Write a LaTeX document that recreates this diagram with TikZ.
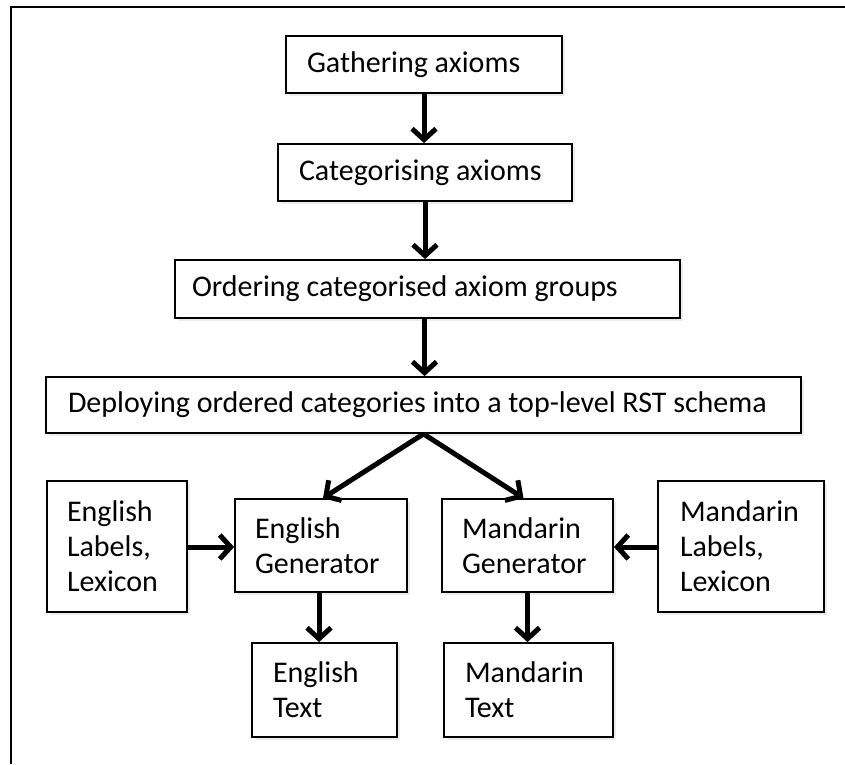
\documentclass[tikz,border=0pt]{standalone}
\usepackage{fontspec}
\setmainfont{Carlito}
\usetikzlibrary{positioning}
\usetikzlibrary{arrows.meta, shadows}

\begin{document}
\begin{tikzpicture}[x=1pt, y=-1pt]

\tikzset{stepbox/.style={
		draw,
		fill=white,
		line width=1.8pt,
		anchor=center,
		align=left,
		inner ysep=0pt,
		font=\fontsize{30}{35}\selectfont,
		execute at begin node={\spaceskip=0.226em\relax},
		drop shadow={shadow xshift=3pt, shadow yshift=-3pt, opacity=0.15}
	},
	flowarrow/.style={
		line width=5pt,
		-{Straight Barb[length=11pt, width=24pt]}
	}
}

\useasboundingbox (0,0) rectangle (845,764);
% frame
\draw[line width=2pt] (11,764) -- (11,7) -- (845,7);

% pipeline
\node[stepbox, text width=234pt, inner xsep=21pt, minimum height=57pt] (gather) at (424,64.5) {\mbox{Gathering axioms}};
\node[stepbox, text width=252pt, inner xsep=21pt, minimum height=57pt] (categ) at (425,172.5) {\mbox{Categorising axioms}};
\node[stepbox, text width=471pt, inner xsep=17pt, minimum height=58pt] (order) at (427.5,289) {\mbox{Ordering categorised axiom groups}};
\node[stepbox, text width=711pt, inner xsep=22pt, minimum height=56pt] (deploy) at (423.5,405) {\mbox{Deploying ordered categories into a top-level RST schema}};

% generators
\node[stepbox, text width=100pt, inner xsep=20pt, minimum height=131pt] (englex) at (117,546.5) {English\\Labels,\\Lexicon};
\node[stepbox, text width=132pt, inner xsep=20pt, minimum height=93pt] (enggen) at (321,545.5) {English\\Generator};
\node[stepbox, text width=131pt, inner xsep=20pt, minimum height=93pt] (mangen) at (527.5,545.5) {Mandarin\\Generator};
\node[stepbox, text width=122pt, inner xsep=22pt, minimum height=131pt] (manlex) at (741,546.5) {Mandarin\\Labels,\\Lexicon};

% output
\node[stepbox, text width=103pt, inner xsep=21pt, minimum height=94pt] (engtxt) at (324.5,690) {English\\Text};
\node[stepbox, text width=127pt, inner xsep=21pt, minimum height=94pt] (mantxt) at (528.5,690) {Mandarin\\Text};

\draw[flowarrow] (gather.south) -- (gather.south |- categ.north);
\draw[flowarrow] (categ.south) -- (categ.south |- order.north);
\draw[flowarrow] ([xshift=-3pt]order.south) -- ([xshift=-3pt]order.south |- deploy.north);
\draw[flowarrow] (deploy.south) -- ([xshift=2pt]enggen.north);
\draw[flowarrow] (deploy.south) -- ([xshift=-4pt]mangen.north);
\draw[flowarrow] (englex.east |- 0,547) -- (enggen.west |- 0,547);
\draw[flowarrow] (manlex.west |- 0,547) -- (mangen.east |- 0,547);
\draw[flowarrow] ([xshift=-2pt]enggen.south) -- ([xshift=-2pt]enggen.south |- engtxt.north);
\draw[flowarrow] (mangen.south) -- (mangen.south |- mantxt.north);

\end{tikzpicture}
\end{document}
